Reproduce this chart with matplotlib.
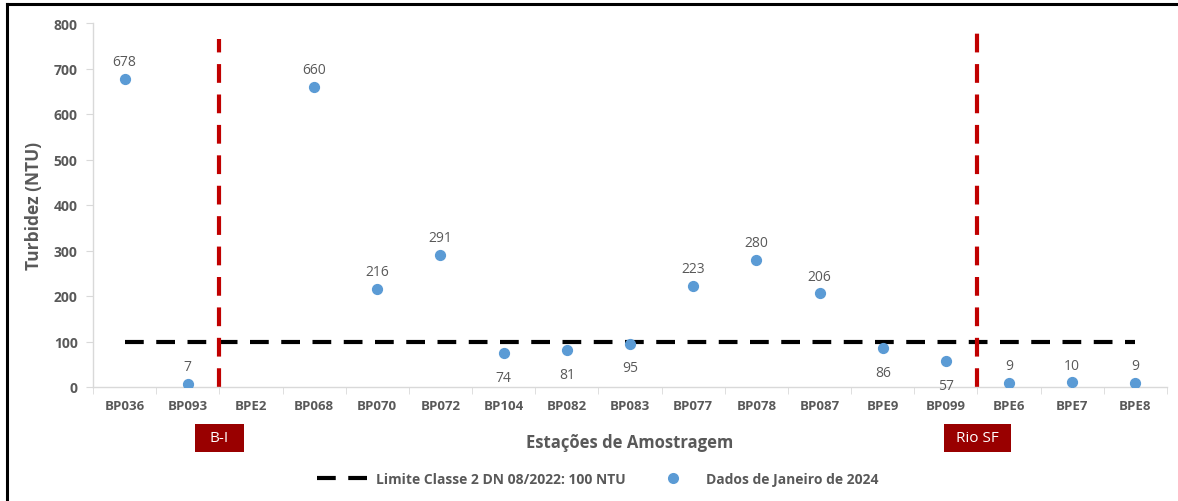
import matplotlib
matplotlib.use("Agg")
import matplotlib.pyplot as plt
from matplotlib.lines import Line2D
from matplotlib.patches import Rectangle
import numpy as np

stations = ["BP036", "BP093", "BPE2", "BP068", "BP070", "BP072", "BP104", "BP082",
            "BP083", "BP077", "BP078", "BP087", "BPE9", "BP099", "BPE6", "BPE7", "BPE8"]
turbidity = [678, 7, None, 660, 216, 291, 74, 81, 95, 223, 280, 206, 86, 57, 9, 10, 9]
label_below = ["BP104", "BP082", "BP083", "BPE9", "BP099"]
limit_value = 100
yticks = [0, 100, 200, 300, 400, 500, 600, 700, 800]
region_lines = [(1.5, 765, "B-I", 0.78), (13.5, 791, "Rio SF", 1.05)]

plt.rcParams['font.family'] = ['Open Sans', 'DejaVu Sans']
gray = '#595959'

fig = plt.figure(figsize=(11.78, 5.02), dpi=100)
ax = fig.add_axes([93/1178, 1-388/502, (1167-93)/1178, (388-24)/502])

n = len(stations)
xs = np.arange(n)
px = [x for x, v in zip(xs, turbidity) if v is not None]
py = [v for v in turbidity if v is not None]

ax.plot([0, n-1], [limit_value, limit_value], color='black', lw=3,
        dashes=(4.5, 3), zorder=2)
ax.scatter(px, py, s=50, color='#5B9BD5', zorder=3)

for s, x, v in zip(stations, xs, turbidity):
    if v is None:
        continue
    if s in label_below:
        ax.annotate(str(v), (x, v), xytext=(0, -12), textcoords='offset points',
                    ha='center', va='top', fontsize=10, color=gray)
    else:
        ax.annotate(str(v), (x, v), xytext=(0, 7), textcoords='offset points',
                    ha='center', va='bottom', fontsize=10, color=gray)

btrans = ax.get_xaxis_transform()
for xline, ytop, name, bw in region_lines:
    ax.plot([xline, xline], [0, ytop], color='#C00000', lw=3, dashes=(4.5, 2.8), zorder=2)
    bh = 28/364
    ax.add_patch(Rectangle((xline - bw/2, -0.140 - bh/2), bw, bh, transform=btrans,
                           facecolor='#990000', edgecolor='none', clip_on=False))
    ax.text(xline, -0.140, name, transform=btrans, ha='center', va='center',
            color='white', fontsize=11)

ax.set_xlim(-0.5, n-0.5)
ax.set_ylim(0, 800)
ax.set_yticks(yticks)
ax.set_yticklabels([str(t) for t in yticks], fontsize=10, fontweight='bold', color=gray)
ax.set_xticks(xs)
ax.set_xticklabels(stations, fontsize=9.5, fontweight='bold', color=gray)
ax.set_xticks(np.arange(-0.5, n, 1), minor=True)
ax.tick_params(axis='x', which='major', length=0, pad=9)
ax.tick_params(axis='x', which='minor', length=5, color='#D9D9D9', direction='out')
ax.tick_params(axis='y', length=5, color='#D9D9D9', pad=6)

for sp in ['top', 'right']:
    ax.spines[sp].set_visible(False)
for sp in ['left', 'bottom']:
    ax.spines[sp].set_color('#D9D9D9')
    ax.spines[sp].set_linewidth(1)

ax.set_xlabel('Estações de Amostragem', fontsize=12, fontweight='bold', color=gray, labelpad=15)
ax.set_ylabel('Turbidez (NTU)', fontsize=12.5, fontweight='bold', color=gray, labelpad=8)

handles = [Line2D([0], [0], color='black', lw=3, dashes=(4.5, 3)),
           Line2D([0], [0], marker='o', color='none', markerfacecolor='#5B9BD5',
                  markeredgecolor='none', markersize=8)]
leg = fig.legend(handles, ['Limite Classe 2 DN 08/2022: 100 NTU', 'Dados de Janeiro de 2024'],
                 loc='center', bbox_to_anchor=(598/1178, 1-480/502), ncol=2, frameon=False,
                 handlelength=3.6, handletextpad=0.6, columnspacing=1.6,
                 prop=dict(size=10, weight='bold'))
for t in leg.get_texts():
    t.set_color(gray)

fig.add_artist(Line2D([7/1178, 7/1178], [0, 1-5/502], color='black', lw=2.2, transform=fig.transFigure))
fig.add_artist(Line2D([7/1178, 1], [1-5/502, 1-5/502], color='black', lw=2.2, transform=fig.transFigure))

fig.savefig('out.png', dpi=100)
